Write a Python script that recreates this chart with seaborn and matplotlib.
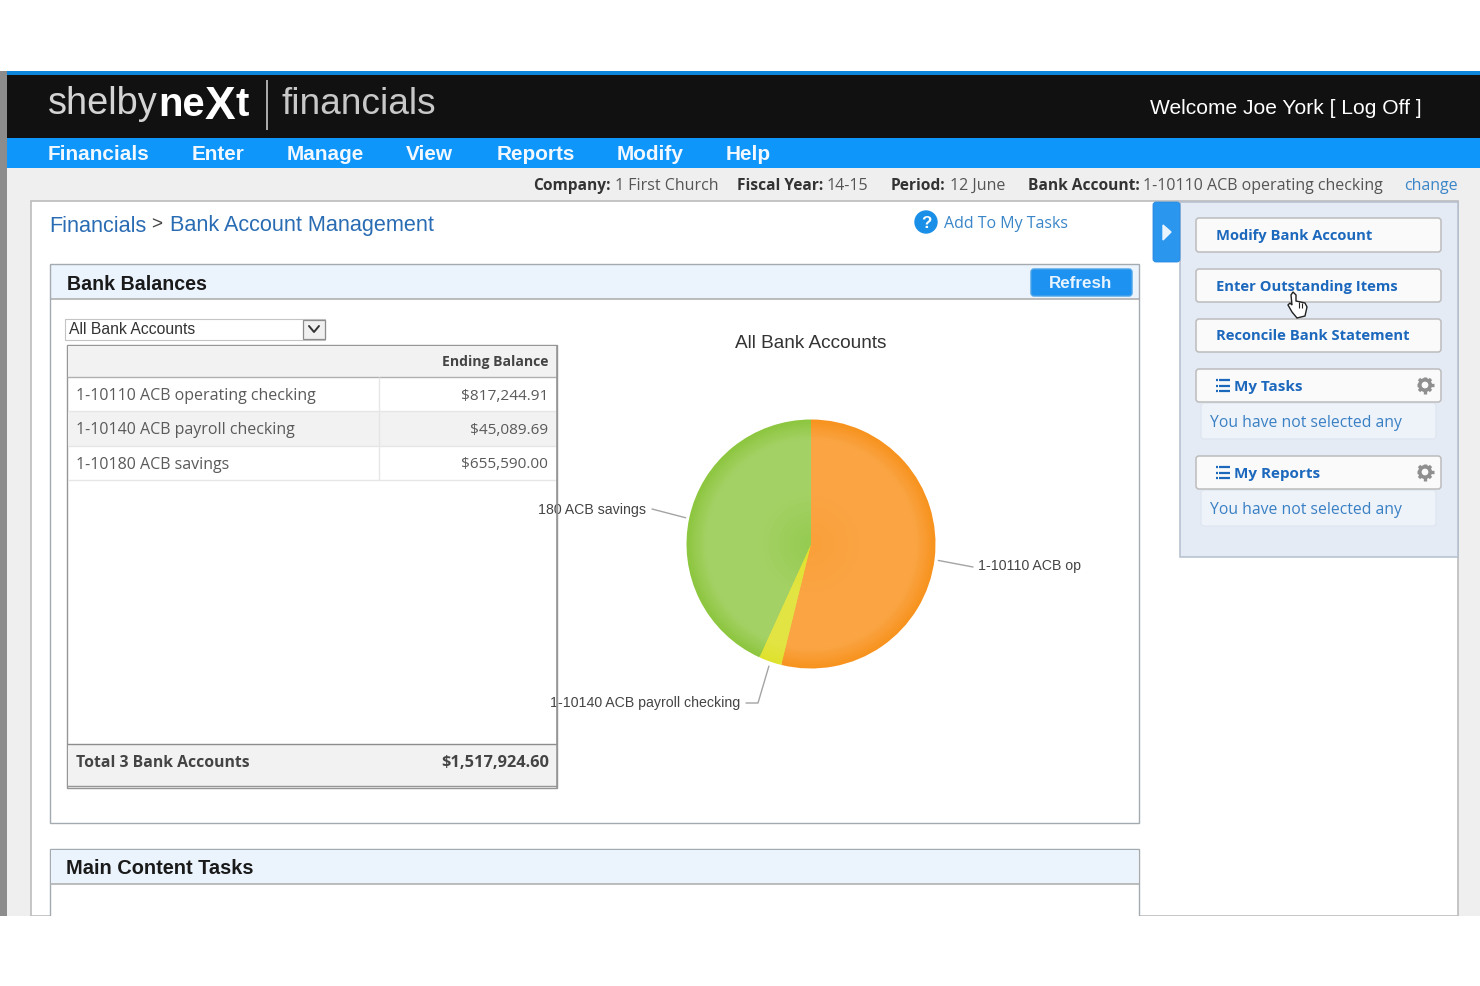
#!/bin/env python
"""
Bank account management screen with the balances pie.
"""

import numpy as np
import matplotlib
matplotlib.use('Agg')
import matplotlib.pyplot as plt
from matplotlib.patches import Circle, FancyBboxPatch, Polygon, Rectangle
import seaborn as sns

accounts = ['1-10110 ACB operating checking', '1-10140 ACB payroll checking',
            '1-10180 ACB savings']
balances = [817244.91, 45089.69, 655590.00]
balance_labels = ['$817,244.91', '$45,089.69', '$655,590.00']
pie_labels = ['1-10110 ACB op', '1-10140 ACB payroll checking', '180 ACB savings']
total_label = 'Total 3 Bank Accounts'
total_value = '$1,517,924.60'
nav_items = ['Financials', 'Enter', 'Manage', 'View', 'Reports', 'Modify', 'Help']
nav_left = [48, 192, 287, 406, 497, 617, 726]
side_buttons = ['Modify Bank Account', 'Enter Outstanding Items',
                'Reconcile Bank Statement']

WIDTH, HEIGHT = 1480, 987
SANS = 'Liberation Sans'
BODY = 'Open Sans'
LINK = '#1c68bd'
GREY_TEXT = '#5a5a5a'

sns.set_theme(style='white')
plt.rcParams['font.family'] = [SANS, 'DejaVu Sans']

fig = plt.figure(figsize=(WIDTH / 100, HEIGHT / 100), dpi=100, facecolor='white')
ui = fig.add_axes([0, 0, 1, 1], zorder=1)
ui.set_xlim(0, WIDTH)
ui.set_ylim(HEIGHT - 1, -1)
ui.axis('off')


def box(x0, y0, x1, y1, face, edge='none', lw=0.0, z=1):
    ui.add_patch(Rectangle((x0, y0), x1 - x0, y1 - y0, facecolor=face,
                           edgecolor=edge, linewidth=lw, zorder=z))


def rbox(x0, y0, x1, y1, face, edge='none', lw=0.0, rad=3, z=3):
    ui.add_patch(FancyBboxPatch((x0, y0), x1 - x0, y1 - y0,
                                boxstyle='round,pad=0,rounding_size=%d' % rad,
                                facecolor=face, edgecolor=edge, linewidth=lw,
                                zorder=z))


def put(x, y, s, px, color='#222222', weight='normal', family=SANS, ha='left', z=6):
    return ui.text(x, y + 1, s, fontsize=px * 0.72, color=color, weight=weight,
                   family=family, ha=ha, va='center', zorder=z)


def hline(x0, x1, y, color, lw=1.0, z=4):
    ui.plot([x0, x1], [y, y], color=color, lw=lw, zorder=z, solid_capstyle='butt')


def vline(x, y0, y1, color, lw=1.0, z=4):
    ui.plot([x, x], [y0, y1], color=color, lw=lw, zorder=z, solid_capstyle='butt')


def gear(cx, cy):
    for ang in np.arange(0, np.pi, np.pi / 4):
        dx, dy = 8.5 * np.cos(ang), 8.5 * np.sin(ang)
        ui.plot([cx - dx, cx + dx], [cy - dy, cy + dy], color='#8f8f8f', lw=2.4,
                zorder=5, solid_capstyle='butt')
    ui.add_patch(Circle((cx, cy), 5.2, facecolor='#fafafa', edgecolor='#8f8f8f',
                        linewidth=2.6, zorder=6))


# page chrome
box(0, 71, 7, 916, '#8c8c8c')
box(7, 168, WIDTH, 916, '#efefef')
box(7, 71, WIDTH, 75, '#0d86dc')
box(7, 75, WIDTH, 138, '#111111')
box(7, 138, WIDTH, 168, '#0f96fa')

# logo
put(48, 102, 'shelby', 38, '#d4d4d4')
put(158, 103, 'ne', 40, 'white', weight='bold')
put(205, 105, 'X', 46, 'white', weight='bold')
put(236, 103, 't', 40, 'white', weight='bold')
vline(267, 80, 130, '#c8c8c8', 1.2)
put(281, 103, 'financials', 37, '#c8c8c8')
put(1422, 107, 'Welcome Joe York [ Log Off ]', 21, 'white', ha='right')

for name, left in zip(nav_items, nav_left):
    put(left, 152, name, 20.8, '#f2f8ff', weight='bold')

# company bar
for left, label, bold in [(533, 'Company:', True), (615, '1 First Church', False),
                          (737, 'Fiscal Year:', True), (827, '14-15', False),
                          (891, 'Period:', True), (950, '12 June', False),
                          (1028, 'Bank Account:', True),
                          (1143, accounts[0], False)]:
    put(left, 184, label, 15.5 if bold else 16, '#333333' if bold else '#555555',
        weight='bold' if bold else 'normal', family=BODY)
put(1404, 184, 'change', 16, '#3a86c8', family=BODY)

# main white area
box(31, 201, 1458, 916, 'white', '#bcbcbc', 1.2)
put(49, 224, 'Financials', 21.6, '#2a6cb3')
put(151, 223, '>', 19, '#444444')
put(170, 223, 'Bank Account Management', 21.6, '#2a6cb3')
ui.add_patch(Circle((926, 222), 11, color='#1a8fe8', zorder=4))
put(926, 221, '?', 17, 'white', weight='bold', ha='center')
put(944, 222, 'Add To My Tasks', 16, '#3a86c8', family=BODY)

# bank balances panel
box(49.5, 264, 1138.5, 823, 'white')
box(49.5, 264, 1138.5, 299, '#ebf3fd')
hline(49.5, 1138.5, 299, '#b0b0b0', 1.2)
box(49.5, 264, 1138.5, 823, 'none', '#a4abb0', 1.0, z=4)
put(67, 282, 'Bank Balances', 19.7, '#1a1a1a', weight='bold')
rbox(1031, 269, 1132, 296, '#1d92f0', '#4aa3e8', 1.0)
put(1081, 281, 'Refresh', 17, '#e8f4ff', weight='bold', ha='center')

# dropdown
box(65, 319, 325, 340, 'white', '#c4c4c4', 0.8)
put(69, 328, 'All Bank Accounts', 15.8, '#333333')
box(303, 320, 325, 339, '#f0f0f0', '#8c8c8c', 0.9)
ui.plot([309, 314, 319], [326, 332, 326], color='#333333', lw=1.4, zorder=6)

# balances table
box(67, 345, 557, 788, 'white', '#969696', 1.0)
box(68, 346, 556, 377, '#f2f2f2')
hline(67, 557, 377, '#b0b0b0', 1.0)
put(549, 360, 'Ending Balance', 14, '#444444', weight='bold', family=BODY, ha='right')
for i, (name, amount) in enumerate(zip(accounts, balance_labels)):
    top = 377 + 34.3 * i
    if i == 1:
        box(68, top, 556, top + 34.3, '#f2f2f2')
    hline(68, 556, top + 34.3, '#e6e6e6', 1.0)
    put(76, top + 17, name, 16, GREY_TEXT, family=BODY)
    put(548, top + 17, amount, 15.4, GREY_TEXT, family=BODY, ha='right')
vline(379, 377, 480, '#e6e6e6', 1.0)
box(68, 744, 556, 786, '#f2f2f2')
hline(67, 557, 744, '#8c8c8c', 1.0)
hline(67, 557, 786, '#969696', 1.0)
put(76, 761, total_label, 15.8, '#444444', weight='bold', family=BODY)
put(549, 761, total_value, 16.4, '#444444', weight='bold', family=BODY, ha='right')
vline(557, 345, 788, '#969696', 1.2, z=8)

# main content tasks panel
box(49.5, 849, 1138.5, 940, 'white', '#a4abb0', 1.0)
box(50.5, 850, 1137.5, 884, '#ebf3fd')
hline(49.5, 1138.5, 884, '#b0b0b0', 1.2)
put(66, 867, 'Main Content Tasks', 20, '#1a1a1a', weight='bold')

# side panel
box(1180, 202, 1458, 557, '#e4ebf5', '#b4bece', 1.1)
rbox(1153, 202, 1180, 262, '#2a96ee', '#2a8ade', 0.6)
ui.add_patch(Polygon([(1163, 225), (1171, 232), (1163, 240)], color='#eaf4ff', zorder=5))
for top, bottom, label in zip([218, 269, 319], [252, 302, 352], side_buttons):
    rbox(1196, top, 1441, bottom, '#fafafa', '#bcbcbc', 1.1)
    put(1216, (top + bottom) / 2 - 1, label, 14.7, LINK, weight='bold', family=BODY)

for top, label in [(369, 'My Tasks'), (456, 'My Reports')]:
    rbox(1201, top + 34, 1436, top + 70, '#eef3fa', '#dde4ee', 0.8, z=2)
    put(1210, top + 52, 'You have not selected any', 15.8, '#3a80c4', family=BODY)
    rbox(1196, top, 1441, top + 33, '#fafafa', '#bcbcbc', 1.1)
    for k in range(3):
        hline(1219, 1230, top + 11 + 5.5 * k, LINK, 1.6, z=6)
        hline(1215.5, 1217.5, top + 11 + 5.5 * k, LINK, 1.6, z=6)
    put(1234, top + 16, label, 15.3, LINK, weight='bold', family=BODY)
    gear(1425, top + 16)

# chart title and pie
put(811, 341, 'All Bank Accounts', 19, '#333333', ha='center')

PIE_X, PIE_Y, PIE_R = 811, 545, 124.5
pie_ax = fig.add_axes([(PIE_X - PIE_R) / WIDTH, 1 - (PIE_Y + PIE_R) / HEIGHT,
                       2 * PIE_R / WIDTH, 2 * PIE_R / HEIGHT], zorder=2)
edge_colors = ['#f7931e', '#dfe22c', '#8dc63f']
mid_colors = ['#faa444', '#e2e444', '#a4d165']
centre_colors = ['#f9a03a', '#dfe22c', '#96cb52']
ramps = [sns.blend_palette([e, m, m, c], 30)
         for e, m, c in zip(edge_colors, mid_colors, centre_colors)]
radii = np.concatenate([np.linspace(1.0, 0.86, 10), np.linspace(0.84, 0.05, 20)])
wedges = None
for j, rad in enumerate(radii):
    found, _ = pie_ax.pie(balances, colors=[r[j] for r in ramps], radius=rad,
                          startangle=90, counterclock=False,
                          wedgeprops={'linewidth': 0})
    if wedges is None:
        wedges = found
pie_ax.set_xlim(-1, 1)
pie_ax.set_ylim(-1, 1)
pie_ax.axis('off')

# leaders follow the middle of each wedge
elbows = [(973, 567, 978, 564, 'left'), (758, 703, 740, 701, 'right'),
          (652, 509, 646, 508, 'right')]
ends = [None, 746, None]
for k, (wedge, label) in enumerate(zip(wedges, pie_labels)):
    mid = np.deg2rad((wedge.theta1 + wedge.theta2) / 2)
    sx = PIE_X + 1.03 * PIE_R * np.cos(mid)
    sy = PIE_Y - 1.03 * PIE_R * np.sin(mid)
    ex, ey, tx, ty, align = elbows[k]
    xs, ys = [sx, ex], [sy, ey]
    if ends[k] is not None:
        xs.append(ends[k])
        ys.append(ey)
    ui.plot(xs, ys, color='#a4a4a4', lw=1.0, zorder=5)
    txt = put(tx, ty, label, 14.1, '#444444', ha=align)
    if k == 0:
        txt.set_clip_path(Rectangle((970, 550), 113, 30, transform=ui.transData))

# hand cursor
ui.add_patch(Polygon([(1291, 295), (1293, 292), (1296, 295), (1296, 301), (1305, 303),
                      (1307, 307), (1305, 316), (1297, 318), (1292, 312), (1288, 305),
                      (1290, 303), (1292, 305)],
                     facecolor='white', edgecolor='#222222', linewidth=1.0, zorder=7))
vline(1299, 302, 308, '#222222', 0.8, z=8)
vline(1302, 303, 308, '#222222', 0.8, z=8)

# letterbox below the capture
box(-1, 916, WIDTH + 1, HEIGHT + 1, 'white', z=9)

fig.savefig('out.png', dpi=100)
